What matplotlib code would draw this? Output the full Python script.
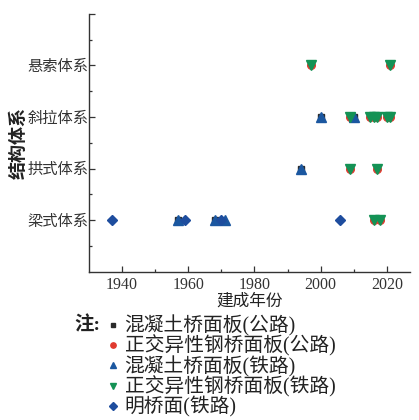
import matplotlib.pyplot as plt
from matplotlib.ticker import FixedLocator

plt.rcParams['font.family'] = ['Liberation Serif', 'Noto Sans CJK SC']
plt.rcParams['axes.unicode_minus'] = False

# 结构体系类别
cats = ['梁式体系', '拱式体系', '斜拉体系', '悬索体系']

# 各桥面类型: (年份, 体系编号)
conc_road_x = [1957, 1968, 1994, 2000, 2010]
conc_road_y = [1, 1, 2, 3, 3]

steel_road_x = [1997, 2021, 2009, 2015, 2016, 2017, 2020, 2021, 2009, 2017, 2016, 2018]
steel_road_y = [4, 4, 3, 3, 3, 3, 3, 3, 2, 2, 1, 1]

conc_rail_x = [1957, 1968, 1971, 1994, 2000, 2010]
conc_rail_y = [1, 1, 1, 2, 3, 3]

steel_rail_x = [1997, 2021, 2009, 2015, 2016, 2017, 2020, 2021, 2009, 2017, 2016, 2018]
steel_rail_y = [4, 4, 3, 3, 3, 3, 3, 3, 2, 2, 1, 1]

open_rail_x = [1937, 1959, 1970, 2006]
open_rail_y = [1, 1, 1, 1]

labels = ['混凝土桥面板(公路)', '正交异性钢桥面板(公路)', '混凝土桥面板(铁路)',
          '正交异性钢桥面板(铁路)', '明桥面(铁路)']

fig = plt.figure(figsize=(4.19, 4.2), dpi=100)
ax = fig.add_axes([0.2124, 0.353, 0.766, 0.614])

h1, = ax.plot(conc_road_x, conc_road_y, 's', color='#2b2b2b', ms=5, ls='none')
h2, = ax.plot(steel_road_x, steel_road_y, 'o', color='#e03a2f', ms=5.5, ls='none')
h3, = ax.plot(conc_rail_x, conc_rail_y, '^', color='#1b57a0', ms=6.5, ls='none')
h4, = ax.plot(steel_rail_x, steel_rail_y, 'v', color='#149255', ms=6.5, ls='none')
h5, = ax.plot(open_rail_x, open_rail_y, 'D', color='#1e4d9e', ms=5.5, ls='none')

ax.set_xlim(1930, 2027)
ax.set_ylim(0, 5)
ax.xaxis.set_major_locator(FixedLocator([1940, 1960, 1980, 2000, 2020]))
ax.xaxis.set_minor_locator(FixedLocator([1950, 1970, 1990, 2010]))
ax.yaxis.set_major_locator(FixedLocator([1, 2, 3, 4, 5]))
ax.yaxis.set_minor_locator(FixedLocator([0.5, 1.5, 2.5, 3.5, 4.5]))
ax.set_yticklabels(cats + [''])
ax.tick_params(which='both', direction='in', colors='#333333', width=0.9)
ax.tick_params(which='major', length=4)
ax.tick_params(which='minor', length=2)
ax.tick_params(axis='x', labelsize=11.5, pad=4)
ax.tick_params(axis='y', labelsize=11, pad=0.5)

for s in ['top', 'right']:
    ax.spines[s].set_visible(False)
for s in ['left', 'bottom']:
    ax.spines[s].set_color('#333333')
    ax.spines[s].set_linewidth(1.0)

ax.set_xlabel('建成年份', fontsize=12, color='#222222', labelpad=0)
ax.set_ylabel('结构体系', fontsize=13, fontweight='bold', color='#222222')
ax.yaxis.set_label_coords(-0.19, 0.5)

fig.text(0.178, 0.225, '注:', fontsize=14, fontweight='bold', color='#222222',
         va='center', ha='left')
leg = fig.legend([h1, h2, h3, h4, h5], labels, loc='upper left',
                 bbox_to_anchor=(0.236, 0.273), frameon=False, fontsize=14.2,
                 handlelength=0.4, handletextpad=0.4, labelspacing=-0.05,
                 borderpad=0, markerscale=0.7)
for t in leg.get_texts():
    t.set_color('#222222')

fig.savefig('out.png', dpi=100)
